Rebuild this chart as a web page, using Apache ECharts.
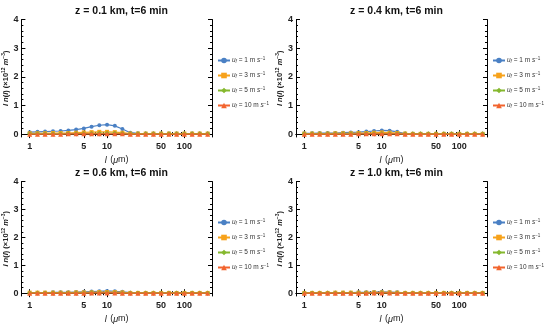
<!DOCTYPE html>
<html><head><meta charset="utf-8">
<script src="https://cdn.jsdelivr.net/npm/echarts@6/dist/echarts.min.js"></script>
<style>html,body{margin:0;padding:0;background:#fff}#c{width:550px;height:326px}</style>
</head><body><div id="c"></div>
<script>
// Data
const sizes = [1,1.26,1.58,2,2.51,3.16,3.98,5.01,6.31,7.94,10,12.6,15.8,20,25.1,31.6,39.8,50.1,63.1,79.4,100,126,158,200];
const titles = ['z = 0.1 km, t=6 min','z = 0.4 km, t=6 min','z = 0.6 km, t=6 min','z = 1.0 km, t=6 min'];
const seriesNames = ['uf1','uf3','uf5','uf10'];
const seriesSpeeds = ['1','3','5','10'];
const xTickLabels = [1,5,10,50,100];
const yTickLabels = [0,1,2,3,4];
const p1_uf1 = [0.07,0.08,0.09,0.10,0.11,0.13,0.16,0.20,0.26,0.31,0.33,0.29,0.18,0.05,0.03,0.02,0.02,0.02,0.02,0.02,0.02,0.02,0.02,0.02];
const p1_uf3 = [0.03,0.03,0.03,0.04,0.04,0.04,0.05,0.06,0.07,0.08,0.08,0.07,0.05,0.02,0.02,0.02,0.02,0.02,0.02,0.02,0.02,0.02,0.02,0.02];
const p1_uf5 = [0.01,0.01,0.01,0.01,0.01,0.02,0.02,0.02,0.02,0.03,0.03,0.03,0.02,0.01,0.01,0.01,0.01,0.01,0.01,0.01,0.01,0.01,0.01,0.01];
const p1_uf10 = [0.0,0.0,0.0,0.0,0.0,0.01,0.01,0.01,0.01,0.01,0.01,0.01,0.01,0.0,0.0,0.0,0.0,0.0,0.0,0.0,0.0,0.0,0.0,0.0];
const p2_uf1 = [0.03,0.03,0.04,0.04,0.04,0.05,0.06,0.07,0.09,0.11,0.13,0.12,0.08,0.02,0.01,0.01,0.01,0.01,0.01,0.01,0.01,0.01,0.01,0.01];
const p2_uf3 = [0.02,0.02,0.02,0.02,0.03,0.03,0.03,0.04,0.04,0.05,0.06,0.05,0.04,0.02,0.01,0.01,0.01,0.01,0.01,0.01,0.01,0.01,0.01,0.01];
const p2_uf5 = [0.01,0.01,0.01,0.01,0.01,0.01,0.01,0.02,0.02,0.02,0.02,0.02,0.02,0.01,0.01,0.01,0.01,0.01,0.01,0.01,0.01,0.01,0.01,0.01];
const p2_uf10 = [0.0,0.0,0.0,0.0,0.0,0.0,0.0,0.01,0.01,0.01,0.01,0.01,0.01,0.0,0.0,0.0,0.0,0.0,0.0,0.0,0.0,0.0,0.0,0.0];
const p3_uf1 = [0.02,0.02,0.02,0.03,0.03,0.03,0.04,0.05,0.06,0.07,0.08,0.07,0.05,0.02,0.01,0.01,0.01,0.01,0.01,0.01,0.01,0.01,0.01,0.01];
const p3_uf3 = [0.02,0.02,0.02,0.02,0.02,0.02,0.03,0.03,0.03,0.04,0.04,0.04,0.03,0.01,0.01,0.01,0.01,0.01,0.01,0.01,0.01,0.01,0.01,0.01];
const p3_uf5 = [0.01,0.01,0.01,0.01,0.01,0.01,0.01,0.01,0.02,0.02,0.02,0.02,0.01,0.01,0.01,0.01,0.01,0.01,0.01,0.01,0.01,0.01,0.01,0.01];
const p3_uf10 = [0.0,0.0,0.0,0.0,0.0,0.0,0.0,0.0,0.01,0.01,0.01,0.01,0.0,0.0,0.0,0.0,0.0,0.0,0.0,0.0,0.0,0.0,0.0,0.0];
const p4_uf1 = [0.01,0.01,0.01,0.02,0.02,0.02,0.02,0.03,0.03,0.04,0.05,0.04,0.03,0.01,0.01,0.01,0.01,0.01,0.01,0.01,0.01,0.01,0.01,0.01];
const p4_uf3 = [0.01,0.01,0.01,0.01,0.02,0.02,0.02,0.02,0.02,0.03,0.03,0.03,0.02,0.01,0.01,0.01,0.01,0.01,0.01,0.01,0.01,0.01,0.01,0.01];
const p4_uf5 = [0.01,0.01,0.01,0.01,0.01,0.01,0.01,0.01,0.01,0.01,0.02,0.01,0.01,0.01,0.01,0.01,0.01,0.01,0.01,0.01,0.01,0.01,0.01,0.01];
const p4_uf10 = [0.0,0.0,0.0,0.0,0.0,0.0,0.0,0.0,0.0,0.01,0.01,0.01,0.0,0.0,0.0,0.0,0.0,0.0,0.0,0.0,0.0,0.0,0.0,0.0];
const panels = [[p1_uf1,p1_uf3,p1_uf5,p1_uf10],[p2_uf1,p2_uf3,p2_uf5,p2_uf10],[p3_uf1,p3_uf3,p3_uf5,p3_uf10],[p4_uf1,p4_uf3,p4_uf5,p4_uf10]];

// Styles
const colors = ['#4A80C4','#F7A21B','#85B82E','#F2642E'];
const symbols = ['circle','rect','diamond','triangle'];
const symSizes = [4,4,5,5];
const gridPos = [{left:21,top:19.5},{left:296,top:19.5},{left:21,top:181.5},{left:296,top:181.5}];
const GW = 191, GH = 117.5;
const XMIN = 0.781, XMAX = 227.6;
const majorX = [1,5,10,50,100];
const minorX = [2,3,4,6,7,8,9,20,30,40,60,70,80,90,200];
const font = 'Liberation Sans, Arial, sans-serif';

const chart = echarts.init(document.getElementById('c'), null, {renderer:'canvas'});
const grid = [], xAxis = [], yAxis = [], series = [], legend = [], title = [];
const line = {show:true, lineStyle:{color:'#000', width:1}};
const nameRich = {
  i:{fontStyle:'italic', fontFamily:font, fontSize:7.5, fontWeight:'bold', color:'#222'},
  r:{fontFamily:font, fontSize:7.5, fontWeight:'bold', color:'#222'},
  sup:{fontFamily:font, fontSize:5, fontWeight:'bold', color:'#222', verticalAlign:'top', padding:[0,0,4,0]}
};
panels.forEach((pd, g) => {
  const gp = gridPos[g];
  grid.push({left:gp.left, top:gp.top, width:GW, height:GH, containLabel:false});
  const xb = xAxis.length;
  xAxis.push({type:'log', logBase:10, gridIndex:g, min:XMIN, max:XMAX, position:'bottom',
    axisLine:line, splitLine:{show:false},
    axisTick:{show:true, inside:true, length:4, lineStyle:{color:'#000'}, customValues:majorX},
    axisLabel:{show:true, customValues:xTickLabels, margin:5, fontSize:9, fontWeight:'bold', color:'#222', fontFamily:font},
    name:'{i|l} {r|(}{i|μ}{r|m)}', nameLocation:'middle', nameGap:17,
    nameTextStyle:{rich:{i:{fontStyle:'italic',fontSize:9,fontFamily:font,color:'#222'}, r:{fontSize:9,fontFamily:font,color:'#222'}}}});
  xAxis.push({type:'log', logBase:10, gridIndex:g, min:XMIN, max:XMAX, position:'bottom',
    axisLine:{show:false}, splitLine:{show:false}, axisLabel:{show:false},
    axisTick:{show:true, inside:true, length:2, lineStyle:{color:'#000'}, customValues:minorX}});
  xAxis.push({type:'log', logBase:10, gridIndex:g, min:XMIN, max:XMAX, position:'top',
    axisLine:line, splitLine:{show:false}, axisLabel:{show:false},
    axisTick:{show:true, inside:true, length:4, lineStyle:{color:'#000'}, customValues:majorX}});
  xAxis.push({type:'log', logBase:10, gridIndex:g, min:XMIN, max:XMAX, position:'top',
    axisLine:{show:false}, splitLine:{show:false}, axisLabel:{show:false},
    axisTick:{show:true, inside:true, length:2, lineStyle:{color:'#000'}, customValues:minorX}});
  const yb = yAxis.length;
  yAxis.push({type:'value', gridIndex:g, min:-0.1, max:4, position:'left',
    axisLine:line, splitLine:{show:false},
    axisTick:{show:true, inside:true, length:4, lineStyle:{color:'#000'}, customValues:[0,1,2,3,4]},
    minorTick:{show:false},
    axisLabel:{show:true, customValues:yTickLabels, margin:3, fontSize:9, fontWeight:'bold', color:'#222', fontFamily:font},
    name:'{i|l n}{r|(}{i|l}{r|) (×10}{sup|12}{r| }{i|m}{sup|−3}{r|)}', nameLocation:'middle', nameRotate:90, nameGap:8,
    nameTextStyle:{rich:nameRich}});
  const minorY = [];
  yTickLabels.forEach(v => { for (let k=1;k<5;k++) if (v + k*0.2 < 4) minorY.push(+(v + k*0.2).toFixed(2)); });
  yAxis.push({type:'value', gridIndex:g, min:-0.1, max:4, position:'left',
    axisLine:{show:false}, splitLine:{show:false}, axisLabel:{show:false},
    axisTick:{show:true, inside:true, length:2, lineStyle:{color:'#000'}, customValues:minorY}});
  yAxis.push({type:'value', gridIndex:g, min:-0.1, max:4, position:'right',
    axisLine:line, splitLine:{show:false}, axisLabel:{show:false},
    axisTick:{show:true, inside:true, length:4, lineStyle:{color:'#000'}, customValues:[0,1,2,3,4]}});
  yAxis.push({type:'value', gridIndex:g, min:-0.1, max:4, position:'right',
    axisLine:{show:false}, splitLine:{show:false}, axisLabel:{show:false},
    axisTick:{show:true, inside:true, length:2, lineStyle:{color:'#000'}, customValues:minorY}});
  pd.forEach((vals, s) => {
    series.push({type:'line', name:seriesNames[s], xAxisIndex:xb, yAxisIndex:yb,
      data: sizes.map((x,i)=>[x, vals[i]]),
      color:colors[s], symbol:symbols[s], symbolSize:symSizes[s], showSymbol:true,
      lineStyle:{width:1.2, color:colors[s]}, itemStyle:{color:colors[s]}, animation:false, silent:true, z:2+s});
  });
  title.push({text:titles[g], left:gp.left + GW/2, top:gp.top - 18.5, textAlign:'center',
    textStyle:{fontSize:10.5, fontWeight:'bold', fontFamily:font, color:'#111'}});
  legend.push({data:seriesNames, orient:'vertical', left:gp.left + GW + 5, top:gp.top + 37,
    itemWidth:12, itemHeight:7, itemGap:7, selectedMode:false, padding:0,
    formatter: n => '{i|u}{sub|f}{r| = ' + seriesSpeeds[seriesNames.indexOf(n)] + ' m }{i|s}{sup|−1}',
    textStyle:{padding:[0,0,0,-3], rich:{
      i:{fontStyle:'italic', fontSize:6.5, fontFamily:font, color:'#333'},
      r:{fontSize:6.5, fontFamily:font, color:'#333'},
      sub:{fontStyle:'italic', fontSize:4.5, fontFamily:font, color:'#333', verticalAlign:'bottom', padding:[3,0,0,0]},
      sup:{fontSize:4.5, fontFamily:font, color:'#333', verticalAlign:'top', padding:[0,0,3,0]}}}});
});
chart.setOption({backgroundColor:'#fff', animation:false, title, grid, xAxis, yAxis, series, legend});
</script></body></html>
